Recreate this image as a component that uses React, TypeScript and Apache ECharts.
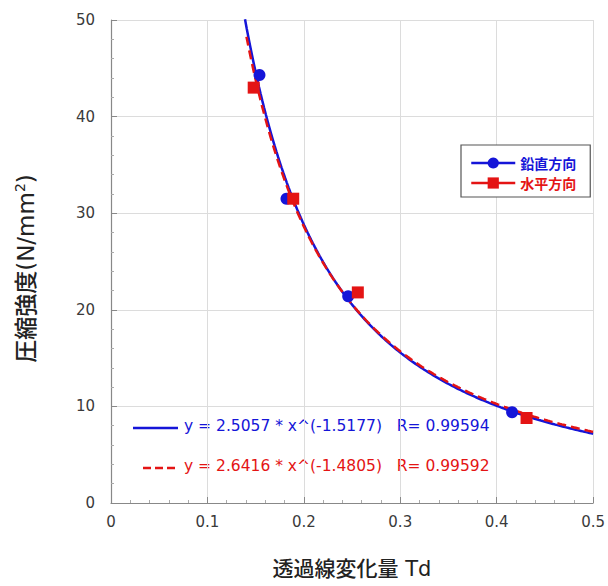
import React, { useEffect, useRef } from "react";
import * as echarts from "echarts";

// Measured points (Td, compressive strength)
const verticalTd = [0.154, 0.182, 0.246, 0.416];
const verticalStrength = [44.3, 31.5, 21.4, 9.4];
const horizontalTd = [0.148, 0.189, 0.256, 0.431];
const horizontalStrength = [43.0, 31.5, 21.8, 8.8];

// Power-law fits printed on the chart: y = a * x^b
const verticalFit = { a: 2.5057, b: -1.5177, r: "0.99594" };
const horizontalFit = { a: 2.6416, b: -1.4805, r: "0.99592" };

const xTicks = [0, 0.1, 0.2, 0.3, 0.4, 0.5];
const yTicks = [0, 10, 20, 30, 40, 50];
const seriesNames = ["鉛直方向", "水平方向"];

const BLUE = "#1515d8";
const RED = "#e41414";

function fitCurve(a: number, b: number, x0: number, x1: number, n: number) {
  const pts: number[][] = [];
  for (let i = 0; i <= n; i++) {
    const x = x0 + ((x1 - x0) * i) / n;
    pts.push([x, a * Math.pow(x, b)]);
  }
  return pts;
}

export default function App() {
  const ref = useRef<HTMLDivElement>(null);
  useEffect(() => {
    if (!ref.current) return;
    const chart = echarts.init(ref.current, null, { renderer: "svg" });
    const font = "'DejaVu Sans', 'Noto Sans CJK JP', sans-serif";
    const cjk = "'Noto Sans CJK JP', 'DejaVu Sans', sans-serif";
    chart.setOption({
      animation: false,
      backgroundColor: "#ffffff",
      grid: { left: 111, right: 14, top: 20, bottom: 83 },
      xAxis: {
        type: "value",
        min: xTicks[0],
        max: xTicks[xTicks.length - 1],
        interval: 0.1,
        name: "透過線変化量 Td",
        nameLocation: "middle",
        nameGap: 55,
        nameTextStyle: { fontFamily: font, fontSize: 21, fontWeight: 500, color: "#222" },
        axisLine: { show: true, lineStyle: { color: "#888", width: 1.2 } },
        axisTick: { show: true, inside: true, length: 6, lineStyle: { color: "#888" } },
        minorTick: { show: true, splitNumber: 5, length: 3, lineStyle: { color: "#aaa" } },
        axisLabel: { fontFamily: font, fontSize: 15, color: "#3a3a3a", margin: 11 },
        splitLine: { show: true, lineStyle: { color: "#dcdcdc", width: 1 } },
      },
      yAxis: {
        type: "value",
        min: yTicks[0],
        max: yTicks[yTicks.length - 1],
        interval: 10,
        name: "圧縮強度(N/mm{sup|2})",
        nameLocation: "middle",
        nameGap: 72,
        nameRotate: 90,
        nameTextStyle: {
          fontFamily: font,
          fontSize: 23,
          fontWeight: 500,
          color: "#222",
          padding: [0, 14, 0, 0],
          rich: {
            sup: { fontFamily: font, fontSize: 14, color: "#222", verticalAlign: "top", padding: [0, 0, 12, 0] },
          },
        },
        axisLine: { show: true, lineStyle: { color: "#888", width: 1.2 } },
        axisTick: { show: true, inside: true, length: 6, lineStyle: { color: "#888" } },
        minorTick: { show: true, splitNumber: 5, length: 3, lineStyle: { color: "#aaa" } },
        axisLabel: { fontFamily: font, fontSize: 15, color: "#3a3a3a", margin: 16 },
        splitLine: { show: true, lineStyle: { color: "#dcdcdc", width: 1 } },
      },
      legend: {
        left: 461,
        top: 145,
        orient: "vertical",
        backgroundColor: "#fff",
        borderColor: "#555",
        borderWidth: 1.2,
        padding: [11, 14, 7, 9],
        itemGap: 6,
        itemWidth: 44,
        itemHeight: 14,
        textStyle: { fontFamily: cjk, fontSize: 14, fontWeight: "bold", lineHeight: 14 },
        data: [
          {
            name: seriesNames[0],
            textStyle: { color: BLUE },
            lineStyle: { color: BLUE, width: 2.5, opacity: 1 },
          },
          {
            name: seriesNames[1],
            textStyle: { color: RED },
            lineStyle: { color: RED, width: 2.5, opacity: 1 },
          },
        ],
      },
      graphic: [
        {
          type: "line",
          shape: { x1: 133, y1: 428, x2: 178, y2: 428 },
          style: { stroke: BLUE, lineWidth: 2.5 },
        },
        {
          type: "text",
          left: 184,
          top: 418,
          style: {
            text: `y = ${verticalFit.a} * x^(${verticalFit.b})   R= ${verticalFit.r}`,
            fill: BLUE,
            font: `15.5px ${font}`,
          },
        },
        {
          type: "line",
          shape: { x1: 143, y1: 468, x2: 178, y2: 468 },
          style: { stroke: RED, lineWidth: 2.5, lineDash: [8, 4] },
        },
        {
          type: "text",
          left: 184,
          top: 458,
          style: {
            text: `y = ${horizontalFit.a} * x^(${horizontalFit.b})   R= ${horizontalFit.r}`,
            fill: RED,
            font: `15.5px ${font}`,
          },
        },
      ],
      series: [
        {
          name: "verticalFit",
          type: "line",
          data: fitCurve(verticalFit.a, verticalFit.b, 0.139, 0.5, 200),
          showSymbol: false,
          symbol: "none",
          lineStyle: { color: BLUE, width: 2.5 },
          clip: true,
          z: 2,
          silent: true,
        },
        {
          name: "horizontalFit",
          type: "line",
          data: fitCurve(horizontalFit.a, horizontalFit.b, 0.1405, 0.5, 200),
          showSymbol: false,
          symbol: "none",
          lineStyle: { color: RED, width: 2.5, type: [9, 5] },
          clip: true,
          z: 3,
          silent: true,
        },
        {
          name: seriesNames[0],
          type: "line",
          data: verticalTd.map((x, i) => [x, verticalStrength[i]]),
          symbol: "circle",
          symbolSize: 12,
          itemStyle: { color: BLUE },
          lineStyle: { color: BLUE, width: 0, opacity: 0 },
          z: 4,
        },
        {
          name: seriesNames[1],
          type: "line",
          data: horizontalTd.map((x, i) => [x, horizontalStrength[i]]),
          symbol: "rect",
          symbolSize: 12,
          itemStyle: { color: RED },
          lineStyle: { color: RED, width: 0, opacity: 0 },
          z: 5,
        },
      ],
    });
    return () => chart.dispose();
  }, []);
  return (
    <div
      ref={ref}
      style={{ position: "fixed", left: 0, top: 0, width: 608, height: 586 }}
    />
  );
}
